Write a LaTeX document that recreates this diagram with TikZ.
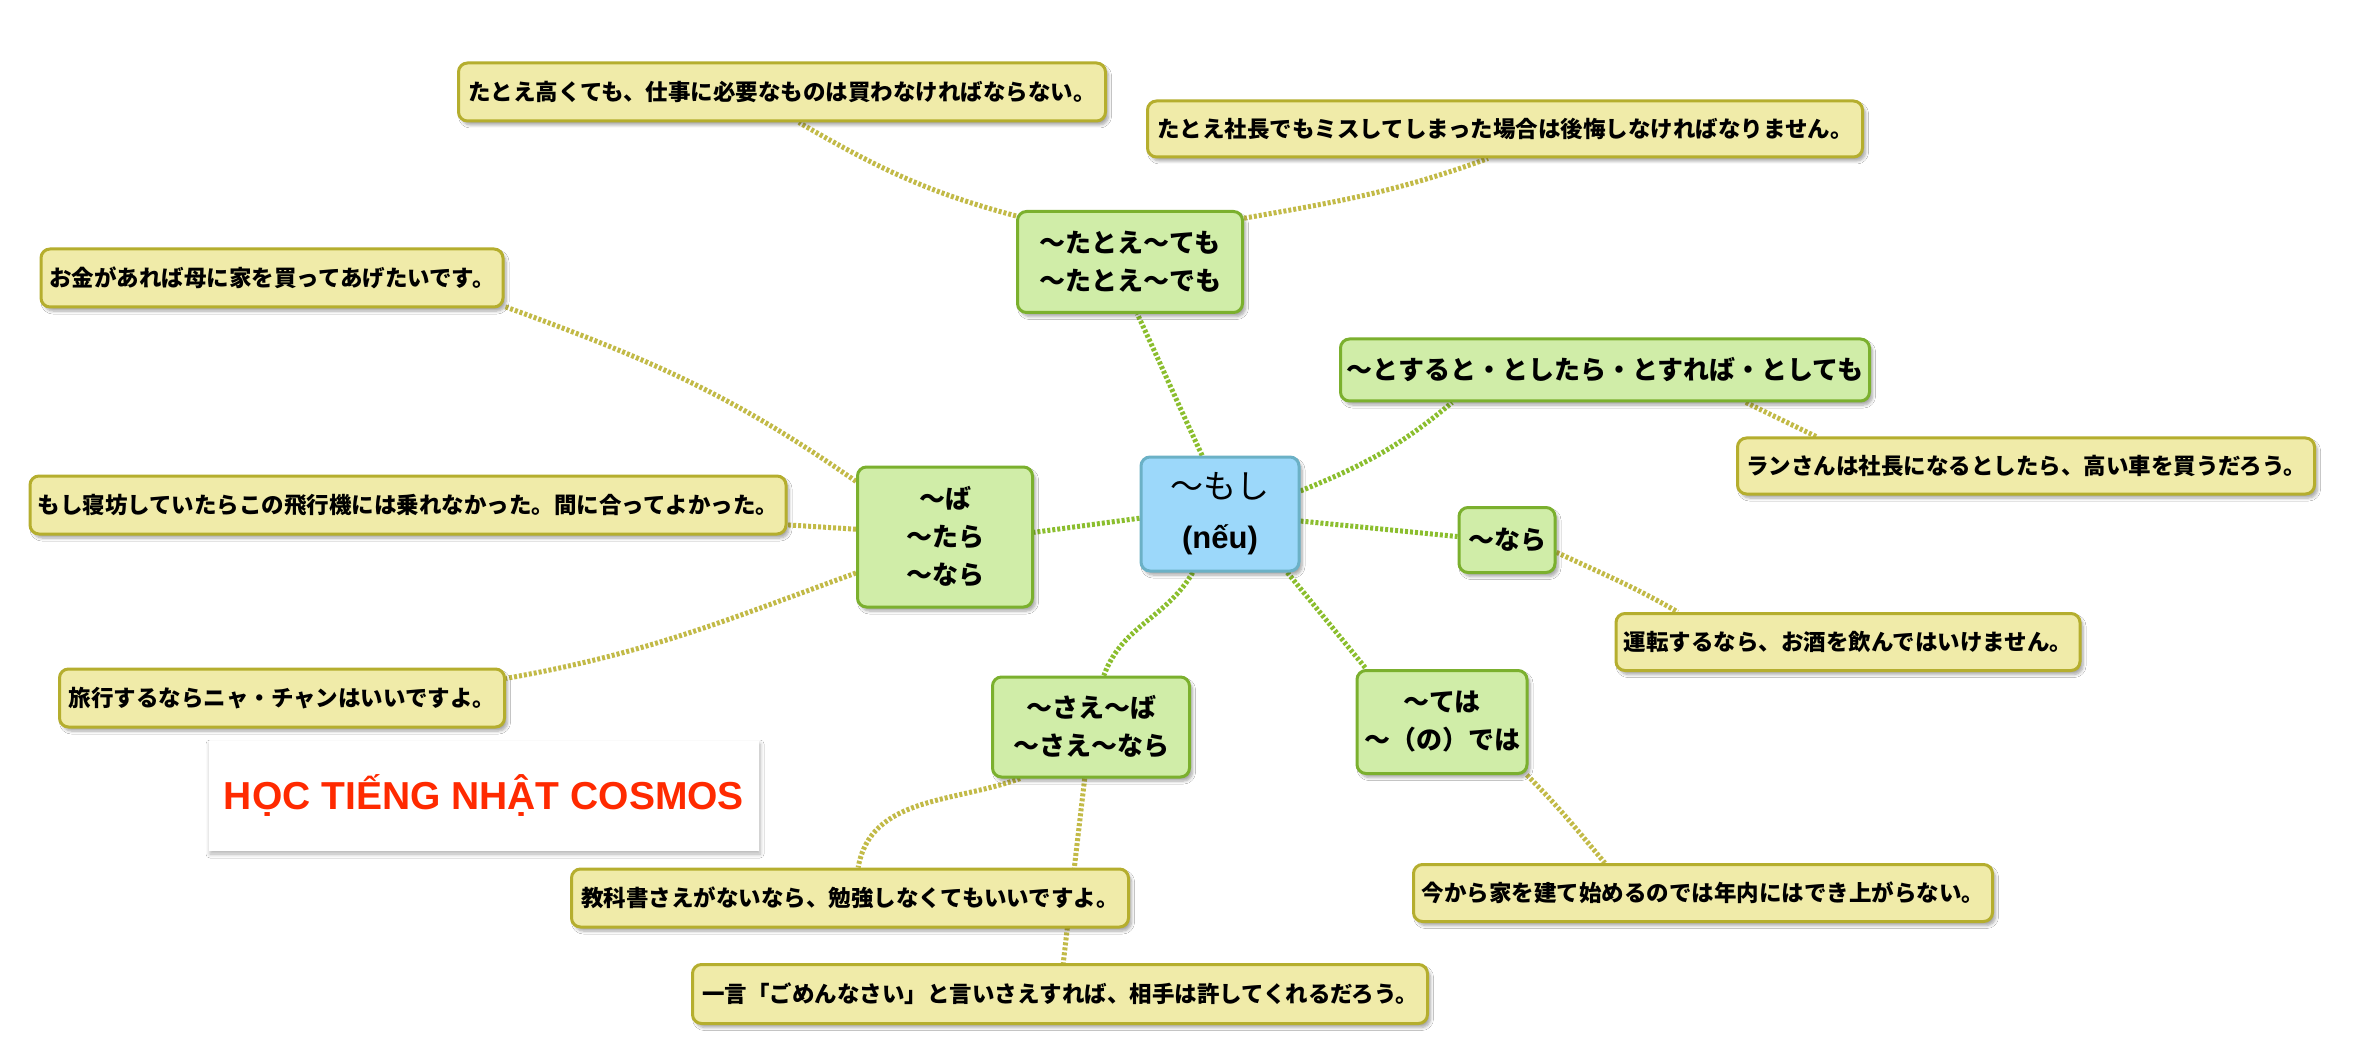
\documentclass[tikz,border=0pt]{standalone}
\usepackage{fontspec}
\setmainfont{Liberation Sans}
\newfontfamily\jp{Noto Sans CJK JP}
\usetikzlibrary{shadows,shadows.blur,backgrounds}
\definecolor{gfill}{HTML}{D0EDA8}
\definecolor{gborder}{HTML}{7BB02E}
\definecolor{yfill}{HTML}{F0EBA9}
\definecolor{yborder}{HTML}{B5AE2E}
\definecolor{bfill}{HTML}{9CD8FA}
\definecolor{bborder}{HTML}{6BB1C6}
\definecolor{cgreen}{HTML}{8BBE2E}
\definecolor{ckhaki}{HTML}{C2BA47}
\definecolor{titlered}{HTML}{FF2A00}
\begin{document}
\begin{tikzpicture}[x=1pt,y=1pt,
  base/.style={rounded corners=9pt, line width=3pt, inner sep=6pt, align=center,
    blur shadow={shadow xshift=3pt,shadow yshift=-4pt,shadow blur radius=3pt,shadow blur steps=6,shadow opacity=35}},
  mainbox/.style={base, fill=gfill, draw=gborder, font=\jp\bfseries\fontsize{26}{38}\selectfont},
  exbox/.style={base, fill=yfill, draw=yborder, font=\jp\bfseries\fontsize{22.5}{27}\selectfont},
  centerbox/.style={base, fill=bfill, draw=bborder, font=\fontsize{33}{50}\selectfont},
  conn/.style={line width=5pt, dash pattern=on 3pt off 2pt, draw=cgreen},
  exconn/.style={line width=5pt, dash pattern=on 3pt off 2pt, draw=ckhaki}]
\useasboundingbox (0,0) rectangle (2370,-1048);

% central node
\node[centerbox, minimum width=158pt, minimum height=114pt] (mosi) at (1220,-514)
  {{\jp 〜もし}\\{\bfseries\fontsize{31}{50}\selectfont (nếu)}};

% main nodes
\node[mainbox, minimum width=225pt, minimum height=101pt] (tatoe) at (1130,-262) {〜たとえ〜ても\\〜たとえ〜でも};
\node[mainbox, minimum width=175pt, minimum height=140pt] (ba) at (945,-537) {〜ば\\〜たら\\〜なら};
\node[mainbox, minimum width=529pt, minimum height=62pt, inner xsep=3pt] (tosuru) at (1605,-370) {〜とすると・としたら・とすれば・としても};
\node[mainbox, minimum width=96pt, minimum height=65pt] (nara) at (1507,-540) {〜なら};
\node[mainbox, minimum width=170pt, minimum height=103pt] (teha) at (1442,-722) {〜ては\\〜（の）では};
\node[mainbox, minimum width=197pt, minimum height=100pt] (sae) at (1091,-727) {〜さえ〜ば\\〜さえ〜なら};

% example nodes
\node[exbox, minimum width=647pt, minimum height=58pt] (ex1) at (782,-92) {たとえ高くても、仕事に必要なものは買わなければならない。};
\node[exbox, minimum width=715pt, minimum height=56pt] (ex2) at (1505,-129) {たとえ社長でもミスしてしまった場合は後悔しなければなりません。};
\node[exbox, minimum width=462pt, minimum height=58pt] (ex3) at (272,-278) {お金があれば母に家を買ってあげたいです。};
\node[exbox, minimum width=756pt, minimum height=58pt, inner xsep=3pt] (ex4) at (408,-505) {もし寝坊していたらこの飛行機には乗れなかった。間に合ってよかった。};
\node[exbox, minimum width=445pt, minimum height=58pt] (ex5) at (282,-698) {旅行するならニャ・チャンはいいですよ。};
\node[exbox, minimum width=557pt, minimum height=58pt] (ex6) at (850,-898) {教科書さえがないなら、勉強しなくてもいいですよ。};
\node[exbox, minimum width=735pt, minimum height=59pt] (ex7) at (1060,-994) {一言「ごめんなさい」と言いさえすれば、相手は許してくれるだろう。};
\node[exbox, minimum width=579pt, minimum height=57pt] (ex8) at (1703,-893) {今から家を建て始めるのでは年内にはでき上がらない。};
\node[exbox, minimum width=464pt, minimum height=57pt] (ex9) at (1848,-642) {運転するなら、お酒を飲んではいけません。};
\node[exbox, minimum width=577pt, minimum height=56pt] (ex10) at (2026,-466) {ランさんは社長になるとしたら、高い車を買うだろう。};

% title
\node[fill=white, minimum width=550pt, minimum height=110pt,
  blur shadow={shadow xshift=1pt,shadow yshift=-3pt,shadow blur radius=4pt,shadow blur steps=6,shadow opacity=30},
  text=titlered, font=\bfseries\fontsize{39}{46}\selectfont] (title) at (484,-796) {HỌC TIẾNG NHẬT COSMOS};

\begin{scope}[on background layer]
  \fill[white] (0,0) rectangle (2370,-1048);
  \draw[conn] (mosi.107) to[out=115,in=-65] (tatoe.-82);
  \draw[conn] (mosi.183) -- (ba.3);
  \draw[conn] (mosi.16) to[out=22,in=220] (tosuru.192);
  \draw[conn] (mosi.-5) -- (nara.176);
  \draw[conn] (mosi.-41) -- (teha.145);
  \draw[conn] (mosi.245) to[out=240,in=70] (sae.76);

  \draw[exconn] (tatoe.158) to[out=165,in=-30] (ex1.-61);
  \draw[exconn] (tatoe.21) to[out=10,in=200] (ex2.240);
  \draw[exconn] (ba.148) to[out=145,in=-20] (ex3.-7);
  \draw[exconn] (ba.175) -- (ex4.-3);
  \draw[exconn] (ba.202) to[out=200,in=10] (ex5.5);
  \draw[exconn] (sae.216) to[out=200,in=80] (ex6.75);
  \draw[exconn] (sae.263) -- (ex7.84);
  \draw[exconn] (teha.-32) to[out=-45,in=130] (ex8.163);
  \draw[exconn] (nara.-14) to[out=-25,in=150] (ex9.170);
  \draw[exconn] (tosuru.-13) -- (ex10.172);
\end{scope}
\end{tikzpicture}
\end{document}
